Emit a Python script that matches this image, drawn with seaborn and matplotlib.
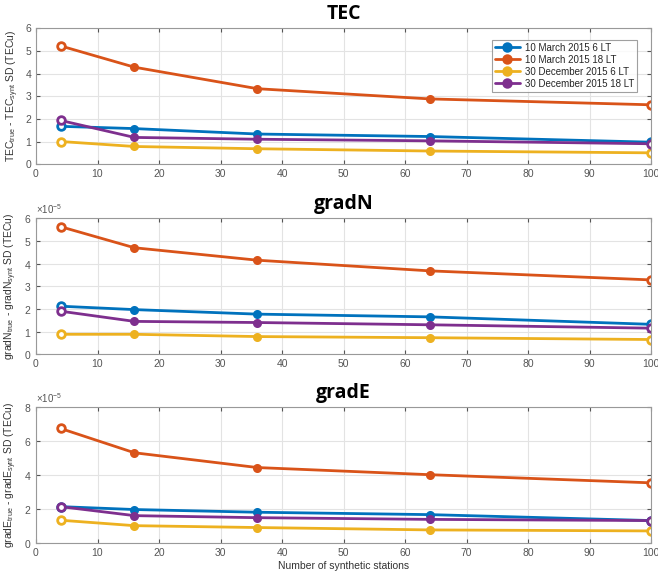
import numpy as np
import pandas as pd
import seaborn as sns
import matplotlib.pyplot as plt
from matplotlib.ticker import ScalarFormatter

# number of synthetic stations
stations = [4, 16, 36, 64, 100]
labels = ["10 March 2015 6 LT", "10 March 2015 18 LT",
          "30 December 2015 6 LT", "30 December 2015 18 LT"]
colors = ["#0072BD", "#D95319", "#EDB120", "#7E2F8E"]

# TEC SD (TECu)
tec_mar6 = [1.67, 1.57, 1.33, 1.22, 0.97]
tec_mar18 = [5.22, 4.28, 3.33, 2.88, 2.62]
tec_dec6 = [1.00, 0.78, 0.68, 0.58, 0.50]
tec_dec18 = [1.93, 1.18, 1.10, 1.03, 0.90]

# gradN SD (x1e-5)
gn_mar6 = [2.12, 1.97, 1.77, 1.65, 1.32]
gn_mar18 = [5.63, 4.70, 4.15, 3.68, 3.28]
gn_dec6 = [0.88, 0.88, 0.78, 0.73, 0.65]
gn_dec18 = [1.90, 1.45, 1.40, 1.30, 1.15]

# gradE SD (x1e-5)
ge_mar6 = [2.15, 1.98, 1.82, 1.68, 1.33]
ge_mar18 = [6.75, 5.32, 4.45, 4.03, 3.55]
ge_dec6 = [1.35, 1.03, 0.92, 0.78, 0.72]
ge_dec18 = [2.15, 1.62, 1.50, 1.40, 1.33]

panels = [
    ("TEC", [tec_mar6, tec_mar18, tec_dec6, tec_dec18], 1, 6,
     r"TEC$_{true}$ - TEC$_{synt}$ SD (TECu)"),
    ("gradN", [gn_mar6, gn_mar18, gn_dec6, gn_dec18], 1e-5, 6,
     r"gradN$_{true}$ - gradN$_{synt}$ SD (TECu)"),
    ("gradE", [ge_mar6, ge_mar18, ge_dec6, ge_dec18], 1e-5, 8,
     r"gradE$_{true}$ - gradE$_{synt}$ SD (TECu)"),
]

sns.set_style("ticks")
plt.rcParams['font.family'] = ['Liberation Sans', 'DejaVu Sans']
plt.rcParams['mathtext.fontset'] = 'custom'
plt.rcParams['mathtext.rm'] = 'Liberation Sans'
plt.rcParams['mathtext.it'] = 'Liberation Sans'

fig = plt.figure(figsize=(6.58, 5.76), dpi=100)
bottoms = [0.715, 0.385, 0.057]
tick_col = "#555555"

for i, (title, series, scale, ymax, ylab) in enumerate(panels):
    ax = fig.add_axes([0.0547, bottoms[i], 0.935, 0.236])
    rows = []
    for lab, vals in zip(labels, series):
        for x, v in zip(stations, vals):
            rows.append({"stations": x, "sd": v * scale, "case": lab})
    df = pd.DataFrame(rows)
    sns.lineplot(data=df, x="stations", y="sd", hue="case", palette=colors,
                 marker="o", markersize=5, linewidth=2, markeredgewidth=1.5,
                 legend=(i == 0), ax=ax)
    for ln in ax.lines:
        ln.set_markeredgecolor(ln.get_color())
    # open markers at the end points
    for c, vals in zip(colors, series):
        v = np.array(vals) * scale
        ax.plot([stations[0], stations[-1]], [v[0], v[-1]], "o", color=c,
                markerfacecolor="white", markeredgewidth=2, markersize=5.5)
    ax.set_xlim(0, 100)
    ax.set_ylim(0, ymax * scale)
    ax.set_xticks(range(0, 101, 10))
    if ymax == 8:
        ax.set_yticks(np.arange(0, 9, 2) * scale)
    else:
        ax.set_yticks(np.arange(0, 7, 1) * scale)
    if scale != 1:
        fmt = ScalarFormatter(useMathText=True)
        fmt.set_powerlimits((0, 0))
        ax.yaxis.set_major_formatter(fmt)
        ax.yaxis.get_offset_text().set_fontsize(7)
        ax.yaxis.get_offset_text().set_color(tick_col)
    ax.grid(True, color="#e3e3e3", linewidth=0.8)
    ax.tick_params(direction="in", top=True, right=True, labelsize=7.5,
                   colors=tick_col, length=3)
    for s in ax.spines.values():
        s.set_color("#999999")
        s.set_linewidth(0.8)
    ax.set_title(title, fontsize=14, fontweight="bold", pad=7,
                 family="Open Sans", color="black")
    ax.set_ylabel(ylab, fontsize=7.5, color="#333333", labelpad=3)
    if i == 2:
        ax.set_xlabel("Number of synthetic stations", fontsize=7.5,
                      color="#333333", labelpad=2)
    else:
        ax.set_xlabel("")
    if i == 0:
        leg = ax.legend(loc="upper right", fontsize=7, frameon=True,
                        fancybox=False, edgecolor="#888888",
                        borderpad=0.3, labelspacing=0.2, handlelength=2.6,
                        handletextpad=0.5, markerscale=1.2,
                        bbox_to_anchor=(0.985, 0.95))
        leg.get_frame().set_linewidth(0.8)

fig.savefig("out.png", dpi=100)
